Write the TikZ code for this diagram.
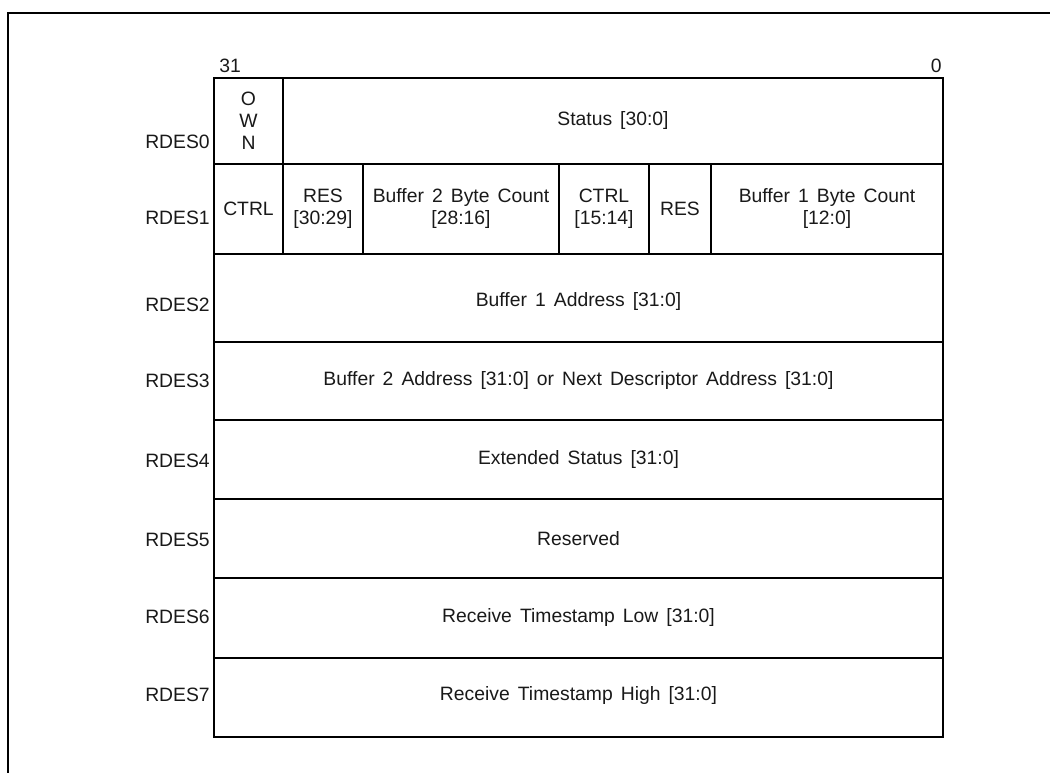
\documentclass[tikz,border=0pt]{standalone}
\usepackage{fontspec}
\setmainfont{Liberation Sans}[WordSpace=1.5]
\usetikzlibrary{calc}

\begin{document}
\begin{tikzpicture}[x=0.75pt,y=-0.75pt,
  txt/.style={font=\fontsize{14.5}{16.5}\selectfont, align=center, inner sep=0pt, text=black!90},
  rule/.style={line width=1.2pt},
  bold rule/.style={line width=1.9pt}]
\useasboundingbox (0,0) rectangle (1050,773);

% frame
\draw [line width=1.5pt] (8,773) -- (8,13) -- (1050,13);

% corners of the descriptor
\coordinate[] (TL) at (214,78);
\coordinate[] (BR) at (943,737);

% rows
\draw [rule] (TL) rectangle (BR);
\draw [bold rule] (943,78) -- (BR);
\foreach \y in {342,420,499,658}
  \draw [rule] (214,\y) -- (943,\y);
\foreach \y in {164,254,578}
  \draw [bold rule] (214,\y) -- (943,\y);

% field borders
\draw [bold rule] (283,78) -- (283,164);
\foreach \x in {283,363,559,649,711}
  \draw [bold rule] (\x,164) -- (\x,254);

% bit numbers
\node[txt, anchor=base west] (msb) at (219,73) {31};
\node[txt, anchor=base east] (lsb) at (942,73) {0};

% word labels
\node[txt, anchor=east] (rdes0) at (210,142) {RDES0};
\node[txt, anchor=east] (rdes1) at (210,218) {RDES1};
\node[txt, anchor=east] (rdes2) at (210,305) {RDES2};
\node[txt, anchor=east] (rdes3) at (210,381) {RDES3};
\node[txt, anchor=east] (rdes4) at (210,461) {RDES4};
\node[txt, anchor=east] (rdes5) at (210,540) {RDES5};
\node[txt, anchor=east] (rdes6) at (210,617) {RDES6};
\node[txt, anchor=east] (rdes7) at (210,695) {RDES7};

% RDES0
\node[txt] (own) at (248.5,121) {O\\W\\N};
\node[txt] (status) at (613,121) {Status [30:0]};

% RDES1
\node[txt] (ctrlhi) at (248.5,209) {CTRL};
\node[txt] (reshi) at (323,209) {RES\\{}[30:29]};
\node[txt] (bufbc2) at (461,209) {Buffer 2 Byte Count\\{}[28:16]};
\node[txt] (ctrllo) at (604,209) {CTRL\\{}[15:14]};
\node[txt] (reslo) at (680,209) {RES};
\node[txt] (bufbc1) at (827,209) {Buffer 1 Byte Count\\{}[12:0]};

% RDES2 .. RDES7
\node[txt] (buf1) at (578.5,302) {Buffer 1 Address [31:0]};
\node[txt] (buf2) at (578.5,381) {Buffer 2 Address [31:0] or Next Descriptor Address [31:0]};
\node[txt] (extst) at (578.5,460) {Extended Status [31:0]};
\node[txt] (rsvd) at (578.5,539) {Reserved};
\node[txt] (tslow) at (578.5,618) {Receive Timestamp Low [31:0]};
\node[txt] (tshigh) at (578.5,696) {Receive Timestamp High [31:0]};

\end{tikzpicture}
\end{document}
